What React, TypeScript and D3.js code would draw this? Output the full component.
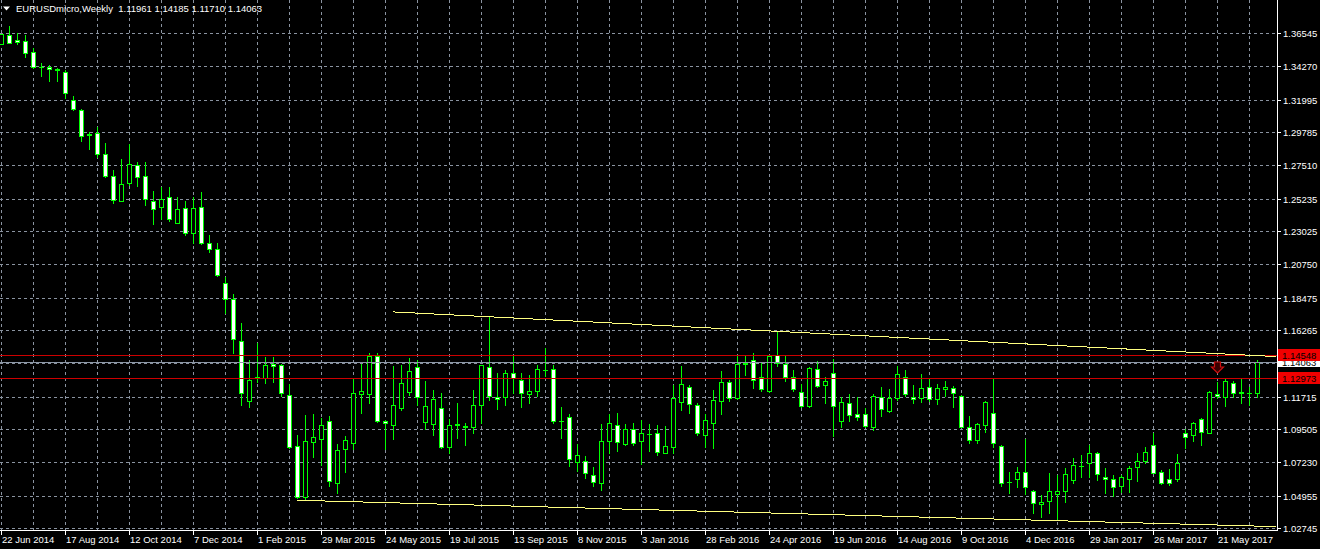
import React, { useEffect } from "react";
import * as d3 from "d3";

const W = 1320;
const H = 549;

const symbol = "EURUSDmicro";
const period = "Weekly";

// weekly date labels (one every 8 bars, first bar = week of 22 Jun 2014)
const dateLabels = [
  "22 Jun 2014", "17 Aug 2014", "12 Oct 2014", "7 Dec 2014", "1 Feb 2015",
  "29 Mar 2015", "24 May 2015", "19 Jul 2015", "13 Sep 2015", "8 Nov 2015",
  "3 Jan 2016", "28 Feb 2016", "24 Apr 2016", "19 Jun 2016", "14 Aug 2016",
  "9 Oct 2016", "4 Dec 2016", "29 Jan 2017", "26 Mar 2017", "21 May 2017",
];
const barsPerDateLabel = 8;
const barsPerGridColumn = 4;

// price scale grid values (1.13990 hidden behind the bid tag)
const priceTicks = [
  1.36545, 1.3427, 1.31995, 1.29785, 1.2751, 1.25235, 1.23025, 1.2075,
  1.18475, 1.16265, 1.1399, 1.11715, 1.09505, 1.0723, 1.04955, 1.02745,
];
const hiddenPriceTicks = [1.1399];

const open = [
  1.3579, 1.3641, 1.3607, 1.3602, 1.3527, 1.3425, 1.3424, 1.3407, 1.3390, 1.3197,
  1.3129, 1.2963, 1.2974, 1.2828, 1.2678, 1.2509, 1.2628, 1.2751, 1.2676, 1.2505,
  1.2468, 1.2533, 1.2359, 1.2457, 1.2287, 1.2468, 1.2223, 1.2177, 1.1949, 1.1840,
  1.1549, 1.1144, 1.1308, 1.1297, 1.1392, 1.1388, 1.1181, 1.0834, 1.0484, 1.0864,
  1.0884, 1.1005, 1.0584, 1.0816, 1.0857, 1.1192, 1.1192, 1.1449, 1.1005, 1.0980,
  1.1096, 1.1205, 1.1376, 1.1000, 1.0985, 1.1092, 1.0826, 1.0983, 1.0966, 1.0962,
  1.1114, 1.1372, 1.1171, 1.1167, 1.1331, 1.1285, 1.1187, 1.1212, 1.1353, 1.1358,
  1.1005, 1.1034, 1.0725, 1.0734, 1.0634, 1.0584, 1.0871, 1.0978, 1.0848, 1.0948,
  1.0871, 1.0916, 1.0921, 1.0789, 1.0830, 1.1137, 1.1239, 1.1114, 1.0912, 1.0989,
  1.1144, 1.1273, 1.1160, 1.1399, 1.1422, 1.1304, 1.1212, 1.1456, 1.1394, 1.1308,
  1.1205, 1.1108, 1.1358, 1.1249, 1.1331, 1.1007, 1.1126, 1.1053, 1.1053, 1.0966,
  1.1171, 1.1075, 1.1160, 1.1308, 1.1171, 1.1160, 1.1235, 1.1153, 1.1226, 1.1228,
  1.1176, 1.0966, 1.0875, 1.0978, 1.1058, 1.0834, 1.0591, 1.0607, 1.0659, 1.0529,
  1.0436, 1.0461, 1.0507, 1.0529, 1.0602, 1.0698, 1.0720, 1.0789, 1.0625, 1.0607,
  1.0561, 1.0607, 1.0689, 1.0734, 1.0841, 1.0659, 1.0607, 1.0607, 1.0921, 1.0910,
  1.1017, 1.0925, 1.1189, 1.1167, 1.1267, 1.1201, 1.1196, 1.11961,
];
const high = [
  1.3650, 1.3702, 1.3652, 1.3641, 1.3550, 1.3448, 1.3436, 1.3418, 1.3402, 1.3224,
  1.3136, 1.2976, 1.3015, 1.2901, 1.2719, 1.2792, 1.2895, 1.2776, 1.2774, 1.2574,
  1.2601, 1.2601, 1.2533, 1.2509, 1.2533, 1.2569, 1.2275, 1.2218, 1.1990, 1.1872,
  1.1676, 1.1422, 1.1540, 1.1444, 1.1444, 1.1394, 1.1256, 1.0910, 1.1046, 1.1053,
  1.1024, 1.1039, 1.0848, 1.0903, 1.1297, 1.1394, 1.1471, 1.1467, 1.1012, 1.1381,
  1.1388, 1.1433, 1.1422, 1.1280, 1.1217, 1.1198, 1.1017, 1.1130, 1.0993, 1.1217,
  1.1388, 1.1713, 1.1331, 1.1353, 1.1449, 1.1331, 1.1319, 1.1388, 1.1501, 1.1388,
  1.1103, 1.1053, 1.0848, 1.0766, 1.0693, 1.0985, 1.1053, 1.1058, 1.0985, 1.0989,
  1.1012, 1.0985, 1.0978, 1.0971, 1.1251, 1.1381, 1.1251, 1.1126, 1.1053, 1.1217,
  1.1349, 1.1285, 1.1449, 1.1449, 1.1471, 1.1403, 1.1456, 1.1622, 1.1449, 1.1353,
  1.1258, 1.1372, 1.1417, 1.1304, 1.1426, 1.1167, 1.1189, 1.1167, 1.1092, 1.1189,
  1.1235, 1.1222, 1.1381, 1.1353, 1.1251, 1.1326, 1.1290, 1.1258, 1.1280, 1.1244,
  1.1183, 1.1039, 1.0993, 1.1144, 1.1290, 1.0841, 1.0659, 1.0693, 1.0880, 1.0534,
  1.0500, 1.0652, 1.0636, 1.0682, 1.0750, 1.0773, 1.0841, 1.0795, 1.0682, 1.0636,
  1.0636, 1.0698, 1.0785, 1.0830, 1.0925, 1.0670, 1.0675, 1.0780, 1.0948, 1.1000,
  1.1024, 1.1212, 1.1273, 1.1290, 1.1280, 1.1290, 1.1239, 1.14185,
];
const low = [
  1.3577, 1.3584, 1.3577, 1.3493, 1.3413, 1.3361, 1.3327, 1.3327, 1.3209, 1.3129,
  1.2919, 1.2860, 1.2810, 1.2673, 1.2496, 1.2505, 1.2617, 1.2610, 1.2482, 1.2350,
  1.2386, 1.2373, 1.2355, 1.2275, 1.2223, 1.2214, 1.2161, 1.1995, 1.1741, 1.1467,
  1.1114, 1.1103, 1.1273, 1.1263, 1.1273, 1.1176, 1.0819, 1.0477, 1.0470, 1.0761,
  1.0705, 1.0561, 1.0516, 1.0659, 1.0812, 1.1062, 1.1130, 1.1000, 1.0812, 1.0884,
  1.1080, 1.1183, 1.1114, 1.0948, 1.0910, 1.0819, 1.0785, 1.0887, 1.0841, 1.0921,
  1.0993, 1.1148, 1.1085, 1.1114, 1.1198, 1.1103, 1.1130, 1.1176, 1.1312, 1.0989,
  1.0887, 1.0698, 1.0666, 1.0614, 1.0561, 1.0534, 1.0789, 1.0802, 1.0841, 1.0841,
  1.0711, 1.0802, 1.0773, 1.0789, 1.0789, 1.1080, 1.1062, 1.0910, 1.0826, 1.0819,
  1.1053, 1.1144, 1.1153, 1.1319, 1.1228, 1.1212, 1.1205, 1.1381, 1.1280, 1.1212,
  1.1103, 1.1099, 1.1239, 1.1130, 1.0903, 1.0966, 1.1007, 1.1012, 1.0962, 1.0944,
  1.1039, 1.1069, 1.1148, 1.1176, 1.1126, 1.1137, 1.1144, 1.1121, 1.1176, 1.1103,
  1.0962, 1.0857, 1.0853, 1.0932, 1.0830, 1.0561, 1.0511, 1.0556, 1.0507, 1.0375,
  1.0352, 1.0375, 1.0334, 1.0454, 1.0580, 1.0625, 1.0625, 1.0602, 1.0516, 1.0493,
  1.0522, 1.0522, 1.0597, 1.0716, 1.0648, 1.0575, 1.0568, 1.0597, 1.0819, 1.0871,
  1.0841, 1.0921, 1.1160, 1.1108, 1.1167, 1.1130, 1.1114, 1.1171,
];
const close = [
  1.3647, 1.3588, 1.3590, 1.3520, 1.3424, 1.3424, 1.3407, 1.3405, 1.3243, 1.3133,
  1.2951, 1.2961, 1.2828, 1.2678, 1.2514, 1.2623, 1.2760, 1.2669, 1.2523, 1.2451,
  1.2523, 1.2386, 1.2455, 1.2287, 1.2457, 1.2223, 1.2177, 1.2000, 1.1840, 1.1563,
  1.1198, 1.1285, 1.1306, 1.1388, 1.1381, 1.1194, 1.0830, 1.0484, 1.0869, 1.0896,
  1.0978, 1.0597, 1.0807, 1.0875, 1.1194, 1.1210, 1.1451, 1.1007, 1.0989, 1.1114,
  1.1263, 1.1347, 1.1171, 1.1108, 1.1153, 1.0826, 1.0978, 1.0981, 1.0968, 1.1112,
  1.1385, 1.1176, 1.1153, 1.1331, 1.1297, 1.1194, 1.1208, 1.1358, 1.1351, 1.1007,
  1.1003, 1.0744, 1.0773, 1.0648, 1.0591, 1.0871, 1.0989, 1.0864, 1.0948, 1.0857,
  1.0925, 1.0914, 1.0795, 1.0834, 1.1160, 1.1258, 1.1121, 1.0925, 1.1012, 1.1148,
  1.1273, 1.1160, 1.1394, 1.1397, 1.1285, 1.1222, 1.1449, 1.1399, 1.1304, 1.1222,
  1.1108, 1.1365, 1.1244, 1.1280, 1.1108, 1.1138, 1.1046, 1.1034, 1.0971, 1.1176,
  1.1085, 1.1160, 1.1326, 1.1189, 1.1153, 1.1228, 1.1153, 1.1228, 1.1239, 1.1198,
  1.0966, 1.0875, 1.0985, 1.1137, 1.0853, 1.0584, 1.0589, 1.0659, 1.0556, 1.0447,
  1.0454, 1.0529, 1.0529, 1.0643, 1.0705, 1.0700, 1.0785, 1.0643, 1.0607, 1.0556,
  1.0621, 1.0682, 1.0734, 1.0795, 1.0652, 1.0584, 1.0584, 1.0720, 1.0898, 1.0993,
  1.0932, 1.1205, 1.1176, 1.1280, 1.1194, 1.1199, 1.1196, 1.14063,
];

// horizontal objects
const levelPrices = [1.14548, 1.12973];
const bidPrice = 1.14063;

// trend lines: [bar index, price] anchor points (rays to the right edge)
const upperTrendBars = [49, 159.4];
const upperTrendPrices = [1.175, 1.1445];
const lowerTrendBars = [37, 159.4];
const lowerTrendPrices = [1.0464, 1.0284];

// sell arrow
const arrowBar = 152;
const arrowPrice = 1.1409;

const FONT = "'Liberation Sans', Arial, sans-serif";
const GREEN = "#00ff00";
const GRID = "#8a93a0";

export default function App() {
  useEffect(() => {
    document.body.style.margin = "0";
    document.body.style.background = "#000";
  }, []);

  const n = open.length;
  const plotRight = 1277;
  const plotBottom = 530;

  const x = d3.scaleLinear().domain([0, 157]).range([1, 1257]);
  const y = d3.scaleLinear().domain([1.02745, 1.36545]).range([528, 33]);

  const gridBars = d3.range(0, n + 4, barsPerGridColumn);

  const line = d3
    .line<[number, number]>()
    .x((d) => x(d[0]))
    .y((d) => y(d[1]));

  const upperPts: [number, number][] = upperTrendBars.map((b, i) => [b, upperTrendPrices[i]]);
  const lowerPts: [number, number][] = lowerTrendBars.map((b, i) => [b, lowerTrendPrices[i]]);

  const title = `${symbol},${period}  ${open[n - 1].toFixed(5)} ${high[n - 1].toFixed(5)} ${low[n - 1].toFixed(5)} ${close[n - 1].toFixed(5)}`;

  const ax = Math.round(x(arrowBar)) + 0.5;
  const ay = Math.round(y(arrowPrice));

  return (
    <svg
      width={W}
      height={H}
      style={{ position: "absolute", left: 0, top: 0, display: "block", background: "#000" }}
      fontFamily={FONT}
    >
      <defs>
        <clipPath id="plot">
          <rect x={0} y={0} width={plotRight} height={plotBottom} />
        </clipPath>
      </defs>
      <rect x={0} y={0} width={W} height={H} fill="#000" />

      {/* grid */}
      <g stroke={GRID} strokeWidth={1} strokeDasharray="3,3" shapeRendering="crispEdges" clipPath="url(#plot)">
        {priceTicks.map((p) => (
          <line key={"h" + p} x1={0} x2={plotRight} y1={Math.round(y(p)) + 0.5} y2={Math.round(y(p)) + 0.5} />
        ))}
        {gridBars.map((b) => (
          <line key={"v" + b} x1={Math.round(x(b)) + 0.5} x2={Math.round(x(b)) + 0.5} y1={0} y2={plotBottom} />
        ))}
      </g>

      {/* candles */}
      <g clipPath="url(#plot)" shapeRendering="crispEdges">
        {open.map((o, i) => {
          const c = close[i];
          const cx = Math.round(x(i));
          const yH = Math.round(y(high[i]));
          const yL = Math.round(y(low[i]));
          const yO = Math.round(y(o));
          const yC = Math.round(y(c));
          const top = Math.min(yO, yC);
          const bot = Math.max(yO, yC);
          const bear = c < o;
          return (
            <g key={i}>
              <rect x={cx} y={yH} width={1} height={yL - yH + 1} fill={GREEN} />
              {bot - top < 1 ? (
                <rect x={cx - 2} y={top} width={5} height={1} fill={GREEN} />
              ) : (
                <>
                  <rect x={cx - 2} y={top} width={5} height={bot - top + 1} fill={GREEN} />
                  {bot - top > 1 && (
                    <rect x={cx - 1} y={top + 1} width={3} height={bot - top - 1} fill={bear ? "#ffffff" : "#000000"} />
                  )}
                </>
              )}
            </g>
          );
        })}
      </g>

      {/* objects */}
      <g clipPath="url(#plot)">
        <line
          x1={0} x2={plotRight}
          y1={Math.round(y(bidPrice)) + 0.5} y2={Math.round(y(bidPrice)) + 0.5}
          stroke="#8c97a6" strokeWidth={1} shapeRendering="crispEdges"
        />
        {levelPrices.map((p) => (
          <line key={p} x1={0} x2={plotRight} y1={Math.round(y(p)) + 0.5} y2={Math.round(y(p)) + 0.5}
            stroke="#cc0000" strokeWidth={1} shapeRendering="crispEdges" />
        ))}
        <path d={line(upperPts) || ""} fill="none" stroke="#ffff80" strokeWidth={1} shapeRendering="crispEdges" />
        <path d={line(lowerPts) || ""} fill="none" stroke="#ffff80" strokeWidth={1} shapeRendering="crispEdges" />
        <path
          d={`M${ax - 3},${ay} L${ax + 3},${ay} L${ax + 3},${ay + 5} L${ax + 6},${ay + 5} L${ax},${ay + 11} L${ax - 6},${ay + 5} L${ax - 3},${ay + 5} Z`}
          fill="#3a0000" stroke="#cc1010" strokeWidth={1.2}
        />
      </g>

      {/* axes frame */}
      <g stroke="#ffffff" strokeWidth={1} shapeRendering="crispEdges">
        <line x1={plotRight + 0.5} x2={plotRight + 0.5} y1={0} y2={plotBottom + 1} />
        <line x1={0} x2={plotRight + 1} y1={plotBottom + 0.5} y2={plotBottom + 0.5} />
        {priceTicks.map((p) => (
          <line key={"pt" + p} x1={plotRight} x2={plotRight + 4} y1={Math.round(y(p)) + 0.5} y2={Math.round(y(p)) + 0.5} />
        ))}
        {dateLabels.map((d, k) => (
          <line key={"dt" + d} x1={Math.round(x(k * barsPerDateLabel)) + 0.5} x2={Math.round(x(k * barsPerDateLabel)) + 0.5}
            y1={plotBottom} y2={plotBottom + 5} />
        ))}
      </g>

      {/* price labels */}
      <g fill="#ffffff" fontSize={9.5}>
        {priceTicks.filter((p) => !hiddenPriceTicks.includes(p)).map((p) => (
          <text key={"pl" + p} x={plotRight + 6} y={Math.round(y(p)) + 4}>
            {p.toFixed(5)}
          </text>
        ))}
      </g>

      {/* date labels */}
      <g fill="#ffffff" fontSize={9.5}>
        {dateLabels.map((d, k) => (
          <text key={"dl" + d} x={Math.round(x(k * barsPerDateLabel)) + 1} y={543}>
            {d}
          </text>
        ))}
      </g>

      {/* bid tag */}
      <g>
        <rect x={plotRight + 1} y={Math.round(y(bidPrice)) - 6} width={W - plotRight - 1} height={11} fill="#ffffff" />
        <text x={plotRight + 5} y={Math.round(y(bidPrice)) + 4} fontSize={9.5} fill="#000">
          {bidPrice.toFixed(5)}
        </text>
      </g>
      {/* level tags */}
      {levelPrices.map((p) => (
        <g key={"lt" + p}>
          <rect x={plotRight + 1} y={Math.round(y(p)) - 6} width={W - plotRight - 1} height={12} fill="#f00000" />
          <text x={plotRight + 5} y={Math.round(y(p)) + 4} fontSize={9.5} fill="#000">
            {p.toFixed(5)}
          </text>
        </g>
      ))}

      {/* title */}
      <path d="M3,6.5 L10,6.5 L6.5,10.5 Z" fill="#ffffff" />
      <text x={16} y={12} fill="#ffffff" fontSize={9.5} style={{ whiteSpace: "pre" }}>
        {title}
      </text>
    </svg>
  );
}
